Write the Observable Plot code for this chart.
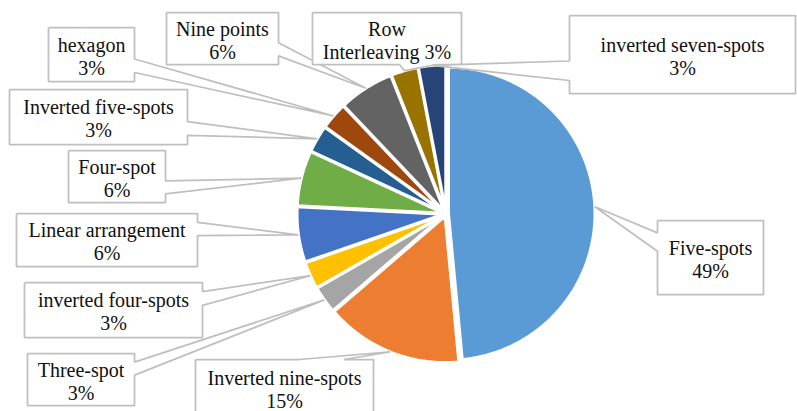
<!DOCTYPE html>
<html>
<head>
<meta charset="utf-8">
<script src="https://cdn.jsdelivr.net/npm/d3@7"></script>
<script src="https://cdn.jsdelivr.net/npm/@observablehq/plot@0.6"></script>
<style>
  body { margin: 0; background: #fff; font-family: "Liberation Serif", serif; }
  #chart svg { overflow: visible; }
</style>
</head>
<body>
<div id="chart"></div>
<script>
// ---- data ----
const categories = [
  "Five-spots", "Inverted nine-spots", "Three-spot", "inverted four-spots",
  "Linear arrangement", "Four-spot", "Inverted five-spots", "hexagon",
  "Nine points", "Row Interleaving", "inverted seven-spots"
];
const values = [48.5, 15.2, 3, 3, 6.1, 6.1, 3, 3, 6.1, 3, 3];

// ---- style ----
const palette = ["#5B9BD5", "#ED7D31", "#A5A5A5", "#FFC000", "#4472C4", "#70AD47",
                 "#255E91", "#9E480E", "#636363", "#997300", "#264478"];
const serif = "Liberation Serif";

// ---- layout (pixel-like units of the scales) ----
const W = 797, H = 411;
const cx = 445.5, cy = 213.3, R = 146.5, explode = 2.5;
// callout boxes [x0, y0, x1, y1], one per category, in category order
const calloutBoxes = [
  [657, 220, 763, 294],
  [195, 359, 373, 415],
  [27, 353, 134, 405],
  [24, 282, 202, 337],
  [16, 213, 197, 266],
  [68, 150, 165, 202],
  [9, 89, 187, 144],
  [48, 27, 134, 81],
  [166, 12, 278, 64],
  [312, 12, 461, 64],
  [569, 15, 795, 93]
];
const manualWrap = { "Row Interleaving": "Row\nInterleaving" };

// ---- geometry ----
const total = d3.sum(values);
const arcs = d3.pie().sort(null).value(d => d)(values);

const slicePts = [];
const tips = [];
arcs.forEach((a, i) => {
  const cat = categories[i];
  const mid = (a.startAngle + a.endAngle) / 2;
  const ox = cx + explode * Math.sin(mid), oy = cy - explode * Math.cos(mid);
  slicePts.push({cat, x: ox, y: oy});
  const n = Math.max(2, Math.ceil((a.endAngle - a.startAngle) / 0.01));
  for (let j = 0; j <= n; j++) {
    const t = a.startAngle + (a.endAngle - a.startAngle) * j / n;
    slicePts.push({cat, x: ox + R * Math.sin(t), y: oy - R * Math.cos(t)});
  }
  slicePts.push({cat, x: ox, y: oy});
  tips.push([ox + R * Math.sin(mid), oy - R * Math.cos(mid)]);
});

// Office "wedgeRectCallout" outline
function callout([x0, y0, x1, y1], [tx, ty]) {
  const w = x1 - x0, h = y1 - y0, hc = (x0 + x1) / 2, vc = (y0 + y1) / 2;
  const dxPos = tx - hc, dyPos = ty - vc;
  const dx = dxPos * h, dy = dyPos * w;
  const xa = x0 + w * (dxPos > 0 ? 7 : 2) / 12, xb = x0 + w * (dxPos > 0 ? 10 : 5) / 12;
  const ya = y0 + h * (dyPos > 0 ? 7 : 2) / 12, yb = y0 + h * (dyPos > 0 ? 10 : 5) / 12;
  const tip = [tx, ty];
  let pts;
  if (Math.abs(dy) > Math.abs(dx)) {
    if (dyPos < 0) pts = [[x0, y0], [xa, y0], tip, [xb, y0], [x1, y0], [x1, y1], [x0, y1]];
    else pts = [[x0, y0], [x1, y0], [x1, y1], [xb, y1], tip, [xa, y1], [x0, y1]];
  } else {
    if (dxPos < 0) pts = [[x0, y0], [x1, y0], [x1, y1], [x0, y1], [x0, yb], tip, [x0, ya]];
    else pts = [[x0, y0], [x1, y0], [x1, ya], tip, [x1, yb], [x1, y1], [x0, y1]];
  }
  pts.push(pts[0]);
  return pts;
}

const calloutPts = [];
const labels = [];
categories.forEach((cat, i) => {
  const box = calloutBoxes[i];
  callout(box, tips[i]).forEach(([x, y]) => calloutPts.push({cat, x, y}));
  const pct = Math.round(values[i] * 100 / total + 1e-9) + "%";
  const text = manualWrap[cat] ? manualWrap[cat] + " " + pct : cat + "\n" + pct;
  labels.push({cat, text, x: (box[0] + box[2]) / 2, y: (box[1] + box[3]) / 2 + 1.5});
});

const chart = Plot.plot({
  width: W,
  height: H,
  margin: 0,
  style: {background: "#fff", overflow: "visible", fontFamily: serif},
  x: {domain: [0, W], range: [0, W], axis: null},
  y: {domain: [0, H], range: [0, H], axis: null},
  color: {domain: categories, range: palette},
  marks: [
    Plot.line(slicePts, {x: "x", y: "y", z: "cat", fill: "cat", stroke: "white", strokeWidth: 3, strokeLinejoin: "round"}),
    Plot.line(calloutPts, {x: "x", y: "y", z: "cat", fill: "white", stroke: "#BFBFBF", strokeWidth: 1.75, strokeLinejoin: "miter", strokeLinecap: "butt"}),
    Plot.text(labels, {x: "x", y: "y", text: "text", fontSize: 20, fontFamily: serif, fill: "#111", lineHeight: 1.15, lineAnchor: "middle"})
  ]
});
chart.setAttribute("font-family", serif);
chart.querySelectorAll("text, tspan").forEach(el => {
  el.setAttribute("font-family", serif);
  el.style.fontFamily = "'Liberation Serif', 'Times New Roman', serif";
});
document.getElementById("chart").append(chart);
</script>
</body>
</html>
